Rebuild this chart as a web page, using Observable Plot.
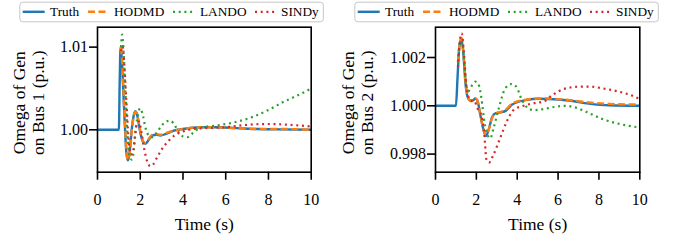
<!DOCTYPE html>
<html>
<head>
<meta charset="utf-8">
<script src="https://cdn.jsdelivr.net/npm/d3@7"></script>
<script src="https://cdn.jsdelivr.net/npm/@observablehq/plot@0.6"></script>
<style>
  body { margin: 0; background: white; }
  #root { position: relative; width: 676px; height: 240px; }
  .panel { position: absolute; top: 0; width: 338px; }
  .panel > svg { display: block; }
</style>
</head>
<body>
<div id="root">
  <div class="panel" id="p1" style="left:0"></div>
  <div class="panel" id="p2" style="left:338px"></div>
</div>
<script>
// ---------- data ----------
const seriesNames = ["Truth", "HODMD", "LANDO", "SINDy"];
const seriesColors = ["#1f77b4", "#ff7f0e", "#2ca02c", "#d62728"];
const xTicks = [0, 2, 4, 6, 8, 10];
const bus1YTicks = [1.00, 1.01];
const bus2YTicks = [0.998, 1.000, 1.002];
const xLabel = "Time (s)";
const bus1YLabel = "Omega of Gen\non Bus 1 (p.u.)";
const bus2YLabel = "Omega of Gen\non Bus 2 (p.u.)";

// Bus 1
const bus1TruthT = [0, 0.99, 1.0, 1.04, 1.08, 1.14, 1.2, 1.28, 1.36, 1.43, 1.5, 1.6, 1.7, 1.78, 1.88, 2.0, 2.12, 2.25, 2.4, 2.56, 2.75, 2.95, 3.2, 3.57, 4.0, 4.8, 5.5, 6.5, 7.5, 8.5, 10];
const bus1TruthV = [1.0, 1.0, 1.0, 1.006, 1.0100, 1.0085, 1.0050, 1.0005, 0.9970, 0.9963, 0.9972, 1.0000, 1.0018, 1.00225, 1.0015, 0.9997, 0.9986, 0.9983, 0.9988, 0.9993, 0.9994, 0.9993, 0.9995, 0.9999, 1.0001, 1.0003, 1.0003, 1.0002, 1.0001, 1.00005, 1.0000];
const bus1HodmdT = [1.1, 1.16, 1.22, 1.3, 1.37, 1.44, 1.52, 1.62, 1.72, 1.8, 1.9, 2.02, 2.14, 2.26, 2.4, 2.56, 2.75, 2.95, 3.2, 3.57, 4.0, 4.8, 5.5, 6.5, 7.5, 8.5, 10];
const bus1HodmdV = [1.0100, 1.0080, 1.0045, 1.0000, 0.9970, 0.9964, 0.9975, 1.0003, 1.0019, 1.0022, 1.0013, 0.9996, 0.9986, 0.9984, 0.9989, 0.9994, 0.9995, 0.9994, 0.9996, 0.9999, 1.0001, 1.0003, 1.0003, 1.0002, 1.0001, 1.0001, 1.0000];
const bus1LandoT = [1.1, 1.15, 1.22, 1.3, 1.4, 1.5, 1.6, 1.7, 1.8, 1.9, 2.0, 2.1, 2.25, 2.4, 2.56, 2.75, 3.0, 3.2, 3.42, 3.6, 3.8, 4.0, 4.2, 4.5, 4.85, 5.5, 6.4, 7.2, 8.0, 8.8, 9.4, 10];
const bus1LandoV = [1.0100, 1.0115, 1.0095, 1.0050, 0.9995, 0.9968, 0.9964, 0.9975, 1.0003, 1.0020, 1.0026, 1.0020, 1.0002, 0.9993, 0.9991, 0.9996, 1.0005, 1.0010, 1.0011, 1.0006, 0.9997, 0.9992, 0.9991, 0.9997, 1.0003, 1.0005, 1.0009, 1.0015, 1.0024, 1.0035, 1.0042, 1.0050];
const bus1SindyT = [1.1, 1.17, 1.25, 1.35, 1.45, 1.55, 1.65, 1.75, 1.85, 1.95, 2.05, 2.2, 2.35, 2.48, 2.6, 2.8, 3.0, 3.3, 3.6, 4.0, 4.5, 5.0, 6.0, 7.0, 8.0, 9.0, 10];
const bus1SindyV = [1.0095, 1.0101, 1.0080, 1.0035, 0.9990, 0.9970, 0.9972, 0.9992, 1.0008, 1.0010, 0.9998, 0.9975, 0.9960, 0.9956, 0.9958, 0.9967, 0.9976, 0.9986, 0.9993, 0.9998, 1.0001, 1.0002, 1.0003, 1.0006, 1.0007, 1.0006, 1.0004];

// Bus 2
const bus2TruthT = [0, 1.0, 1.08, 1.16, 1.26, 1.36, 1.46, 1.56, 1.7, 1.82, 1.95, 2.05, 2.2, 2.35, 2.47, 2.6, 2.77, 2.95, 3.2, 3.45, 3.75, 4.0, 4.5, 5.0, 5.5, 6.5, 7.5, 8.5, 10];
const bus2TruthV = [1.0, 1.0, 1.0012, 1.0024, 1.00277, 1.0022, 1.0010, 1.0004, 1.00022, 1.00022, 1.0003, 1.00022, 0.9996, 0.9990, 0.99875, 0.9990, 0.99953, 0.9997, 0.99973, 0.9998, 1.00005, 1.00015, 1.00025, 1.00029, 1.00028, 1.00022, 1.00009, 1.00002, 1.0000];
const bus2HodmdT = [1.1, 1.18, 1.28, 1.38, 1.48, 1.58, 1.7, 1.82, 1.95, 2.05, 2.2, 2.35, 2.47, 2.6, 2.77, 2.95, 3.2, 3.45, 3.75, 4.0, 4.5, 5.0, 5.5, 6.5, 7.5, 8.5, 10];
const bus2HodmdV = [1.0018, 1.0025, 1.0028, 1.0021, 1.0009, 1.0004, 1.0002, 1.0002, 1.0003, 1.0002, 0.9996, 0.9990, 0.9988, 0.9990, 0.9995, 0.99968, 0.99975, 0.99985, 1.0001, 1.00018, 1.00026, 1.0003, 1.0003, 1.00024, 1.00014, 1.00008, 1.00005];
const bus2LandoT = [1.1, 1.2, 1.3, 1.4, 1.5, 1.6, 1.75, 1.95, 2.1, 2.25, 2.4, 2.55, 2.68, 2.85, 3.1, 3.4, 3.7, 3.95, 4.2, 4.5, 4.8, 5.2, 5.8, 6.3, 6.8, 7.4, 8.2, 9.0, 10];
const bus2LandoV = [1.0018, 1.0026, 1.0027, 1.0019, 1.0009, 1.0006, 1.0008, 1.0010, 1.0009, 1.0003, 0.9993, 0.9988, 0.99865, 0.9991, 0.9999, 1.0007, 1.0009, 1.0008, 1.0003, 0.99992, 0.99982, 0.99985, 0.99995, 1.0000, 0.99994, 0.99974, 0.99944, 0.99925, 0.9991];
const bus2SindyT = [1.1, 1.18, 1.28, 1.38, 1.48, 1.6, 1.75, 1.9, 2.05, 2.2, 2.37, 2.5, 2.62, 2.85, 3.18, 3.51, 3.83, 4.3, 4.9, 5.3, 5.7, 6.3, 7.0, 7.6, 8.2, 8.9, 9.46, 10];
const bus2SindyV = [1.0016, 1.0026, 1.0030, 1.0023, 1.0011, 1.0004, 1.0002, 1.0002, 0.9999, 0.9997, 0.9990, 0.99775, 0.99765, 0.9980, 0.9987, 0.99939, 0.99983, 1.0000, 1.00012, 1.00018, 1.00043, 1.0007, 1.00079, 1.00079, 1.00072, 1.0006, 1.00047, 1.00028];

// ---------- drawing ----------
const styles = [
  {strokeWidth: 2.4, strokeDasharray: null},
  {strokeWidth: 2.4, strokeDasharray: "7,3.5"},
  {strokeWidth: 2.2, strokeDasharray: "2,3.7"},
  {strokeWidth: 2.2, strokeDasharray: "2,3.7"}
];
const FONT = "'Liberation Serif', 'Times New Roman', serif";
const NS = "http://www.w3.org/2000/svg";

function legend(boxLeft) {
  const svg = document.createElementNS(NS, "svg");
  svg.setAttribute("width", 338);
  svg.setAttribute("height", 24);
  const sampleX = [3.4, 68.7, 153.7, 235.7];
  const sampleW = [22, 20, 20, 20];
  const textX = [30.7, 94.7, 180.7, 261.7];
  let html = `<rect x="${boxLeft + 0.5}" y="2.2" width="303.5" height="19.6" rx="3" fill="white" stroke="#c6c6c6" stroke-width="1"/>`;
  seriesNames.forEach((name, i) => {
    const s = styles[i];
    const x0 = boxLeft + sampleX[i];
    html += `<line x1="${x0}" x2="${x0 + sampleW[i]}" y1="11.8" y2="11.8" stroke="${seriesColors[i]}" stroke-width="${s.strokeWidth}" stroke-linecap="butt"${s.strokeDasharray ? ` stroke-dasharray="${s.strokeDasharray}"` : ""}/>`;
    html += `<text x="${boxLeft + textX[i]}" y="16.2" font-family="${FONT}" font-size="13.3" fill="black">${name}</text>`;
  });
  svg.innerHTML = html;
  return svg;
}

function panel(el, cfg) {
  const lines = cfg.series.map(([T, V], i) => {
    const rows = T.map((t, j) => ({t, v: V[j]}));
    return Plot.line(rows, {x: "t", y: "v", stroke: seriesColors[i], curve: "monotone-x", strokeLinecap: "butt", strokeLinejoin: "round", ...styles[i]});
  });
  const chart = Plot.plot({
    width: 338,
    height: 216,
    marginLeft: 97,
    marginRight: cfg.marginRight,
    marginTop: 2.7,
    marginBottom: 68.3,
    style: {fontFamily: FONT, fontSize: "16px", background: "white", color: "black", overflow: "visible"},
    x: {domain: [0, 10]},
    y: {domain: cfg.yDomain},
    marks: [
      ...lines,
      Plot.frame({stroke: "black", strokeWidth: 1.6}),
      Plot.axisX({ticks: xTicks, tickSize: 8, tickPadding: 13, strokeWidth: 1.6, fontSize: 16, label: null, fill: "black"}),
      Plot.axisY({ticks: cfg.yTicks, tickFormat: cfg.yFormat, tickSize: 8, tickPadding: 1.5, strokeWidth: 1.6, fontSize: 16, label: null, fill: "black"}),
      Plot.text([xLabel], {frameAnchor: "bottom", textAnchor: "middle", lineAnchor: "middle", dy: 52.5, fontSize: 17.5, fill: "black"}),
      Plot.text([cfg.yLabel], {frameAnchor: "left", textAnchor: "middle", lineAnchor: "middle", dx: cfg.yLabelDx, dy: 3, rotate: -90, fontSize: 17.5, lineHeight: 1.1, fill: "black"})
    ]
  });
  el.appendChild(legend(cfg.legendLeft));
  el.appendChild(chart);
}

panel(document.getElementById("p1"), {
  series: [[bus1TruthT, bus1TruthV], [bus1HodmdT, bus1HodmdV], [bus1LandoT, bus1LandoV], [bus1SindyT, bus1SindyV]],
  yDomain: [0.99487, 1.01241],
  yTicks: bus1YTicks,
  yFormat: d3.format(".2f"),
  yLabel: bus1YLabel,
  yLabelDx: -69.5,
  marginRight: 27.3,
  legendLeft: 19.3
});
panel(document.getElementById("p2"), {
  series: [[bus2TruthT, bus2TruthV], [bus2HodmdT, bus2HodmdV], [bus2LandoT, bus2LandoV], [bus2SindyT, bus2SindyV]],
  yDomain: [0.99725, 1.003255],
  yTicks: bus2YTicks,
  yFormat: d3.format(".3f"),
  yLabel: bus2YLabel,
  yLabelDx: -78.5,
  marginRight: 36.7,
  legendLeft: 16.3
});
</script>
</body>
</html>
